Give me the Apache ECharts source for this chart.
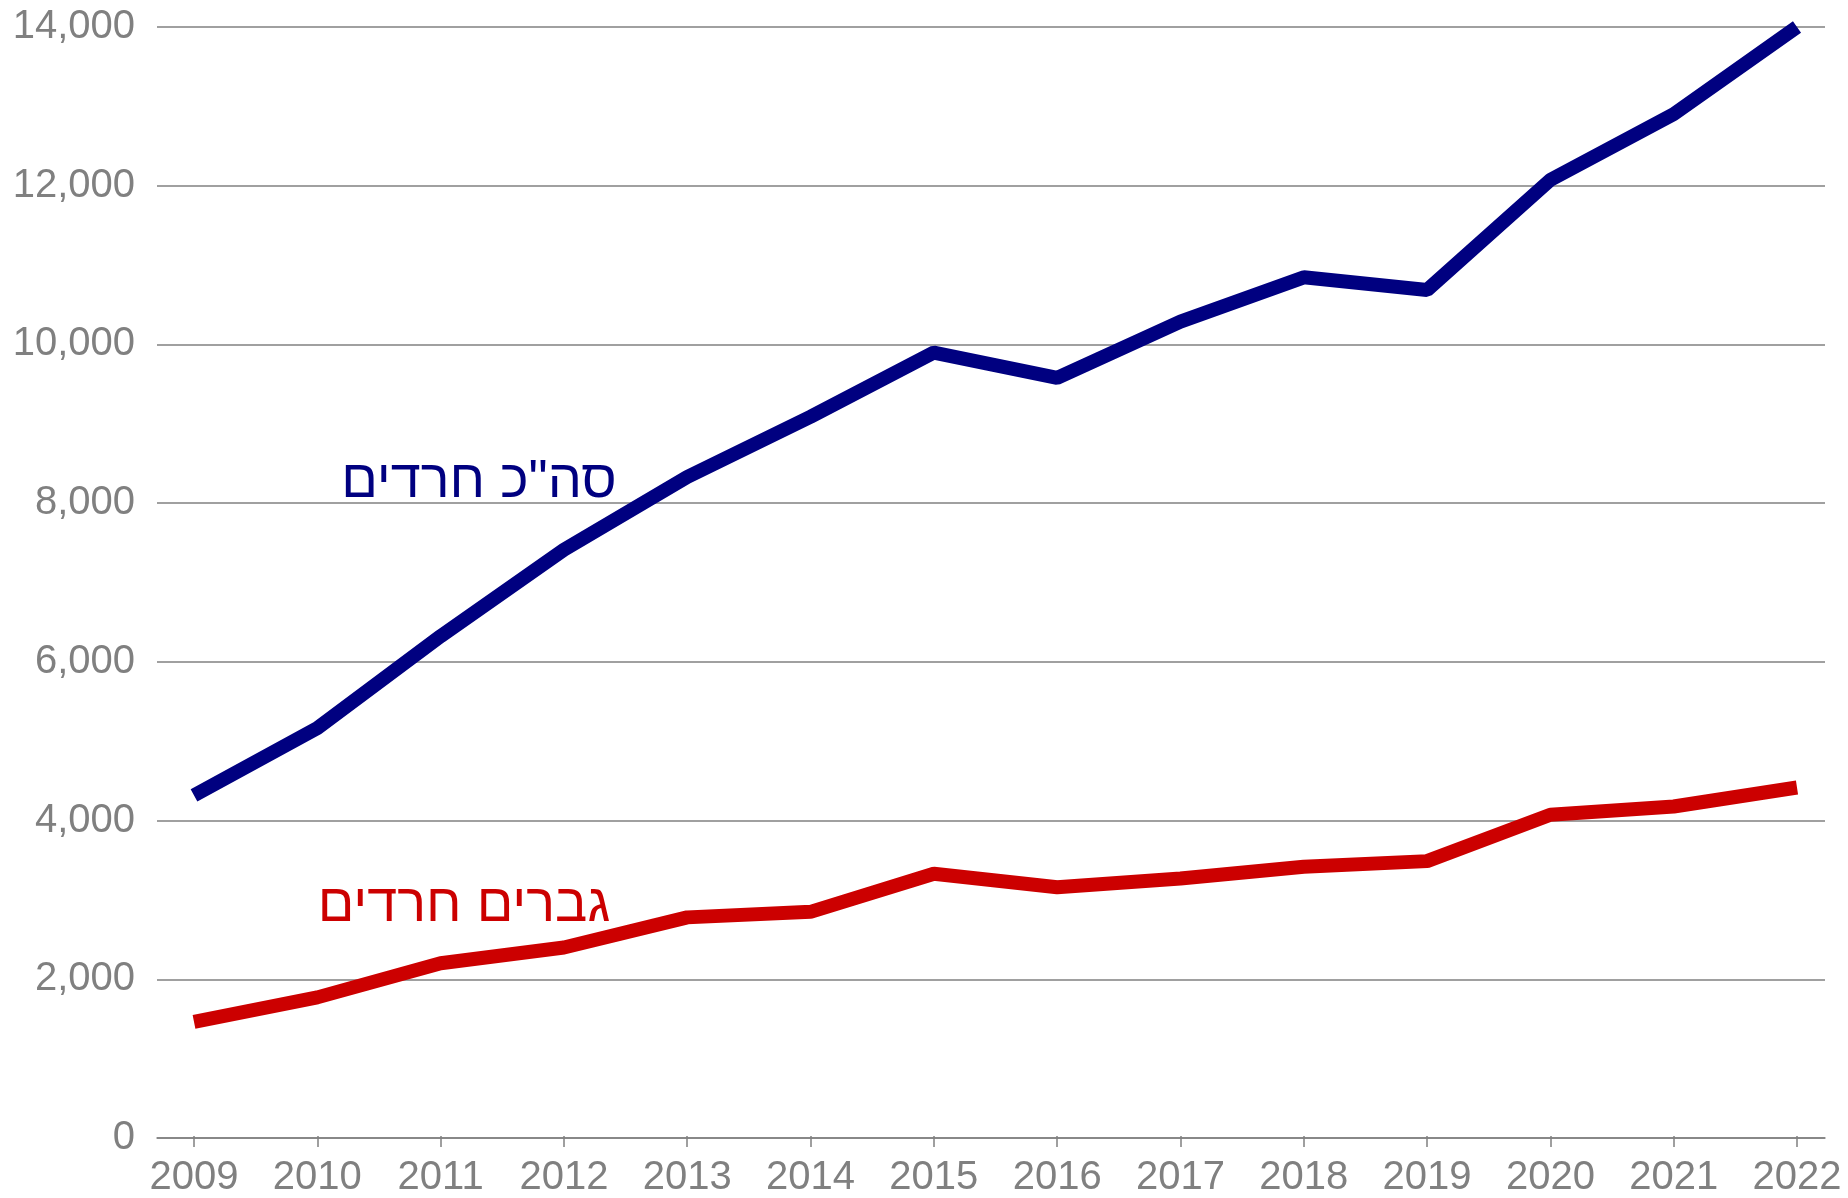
<!DOCTYPE html>
<html>
<head>
<meta charset="utf-8">
<script src="https://cdn.jsdelivr.net/npm/echarts@6/dist/echarts.min.js"></script>
<style>
html, body { margin: 0; padding: 0; background: #ffffff; }
#chart { width: 1848px; height: 1198px; }
</style>
</head>
<body>
<div id="chart"></div>
<script>
// years on the x axis
var years = ['2009','2010','2011','2012','2013','2014','2015','2016','2017','2018','2019','2020','2021','2022'];
// total haredim (navy)
var totalHaredim = [4300, 5150, 6310, 7400, 8320, 9080, 9890, 9570, 10280, 10840, 10680, 12070, 12900, 14000];
// haredi men (red)
var haredimMen = [1440, 1750, 2180, 2380, 2760, 2830, 3310, 3140, 3250, 3400, 3470, 4055, 4160, 4400];
var yTicks = [0, 2000, 4000, 6000, 8000, 10000, 12000, 14000];

var labelTotal = 'סה"כ חרדים';
var labelMen = 'גברים חרדים';

var gray = '#808080';
var chart = echarts.init(document.getElementById('chart'));

var option = {
    animation: false,
    backgroundColor: '#ffffff',
    textStyle: { fontFamily: 'Liberation Sans, Arial, sans-serif' },
    grid: [
        // outer grid: gridlines + axis line span the whole plot
        { left: 157, right: 23, top: 27, bottom: 60 },
        // inner grid: category points from 2009 to 2022
        { left: 194, right: 51, top: 27, bottom: 60 }
    ],
    xAxis: [
        {
            gridIndex: 0,
            type: 'value',
            min: 0,
            max: 1,
            axisLine: { show: true, lineStyle: { color: gray, width: 1.5 } },
            axisTick: { show: false },
            axisLabel: { show: false },
            splitLine: { show: false }
        },
        {
            gridIndex: 1,
            type: 'category',
            data: years,
            boundaryGap: false,
            axisLine: { show: false },
            axisTick: { show: true, length: 11, lineStyle: { color: gray, width: 1.5 } },
            axisLabel: {
                color: gray,
                fontSize: 40,
                margin: 22,
                fontFamily: 'Liberation Sans, Arial, sans-serif'
            },
            splitLine: { show: false }
        }
    ],
    yAxis: [
        {
            gridIndex: 0,
            type: 'value',
            min: yTicks[0],
            max: yTicks[yTicks.length - 1],
            interval: 2000,
            axisLine: { show: false },
            axisTick: { show: false },
            axisLabel: {
                color: gray,
                fontSize: 40,
                margin: 22,
                fontFamily: 'Liberation Sans, Arial, sans-serif',
                formatter: function (v) { return echarts.format.addCommas(v); }
            },
            splitLine: { show: true, lineStyle: { color: gray, width: 1.5 } }
        },
        {
            gridIndex: 1,
            type: 'value',
            min: yTicks[0],
            max: yTicks[yTicks.length - 1],
            interval: 2000,
            show: false,
            splitLine: { show: false }
        }
    ],
    series: [
        {
            name: labelTotal,
            type: 'line',
            xAxisIndex: 1,
            yAxisIndex: 1,
            data: totalHaredim,
            symbol: 'none',
            lineStyle: { color: '#000080', width: 14 },
            z: 3
        },
        {
            name: labelMen,
            type: 'line',
            xAxisIndex: 1,
            yAxisIndex: 1,
            data: haredimMen,
            symbol: 'none',
            lineStyle: { color: '#cc0000', width: 14 },
            z: 3
        }
    ],
    graphic: [
        {
            type: 'text',
            x: 479,
            y: 509,
            style: {
                text: labelTotal,
                fill: '#000080',
                fontSize: 54,
                fontFamily: 'Liberation Sans, Arial, sans-serif',
                align: 'center',
                verticalAlign: 'bottom'
            }
        },
        {
            type: 'text',
            x: 464,
            y: 933,
            style: {
                text: labelMen,
                fill: '#cc0000',
                fontSize: 54,
                fontFamily: 'Liberation Sans, Arial, sans-serif',
                align: 'center',
                verticalAlign: 'bottom'
            }
        }
    ]
};

chart.setOption(option);
</script>
</body>
</html>
